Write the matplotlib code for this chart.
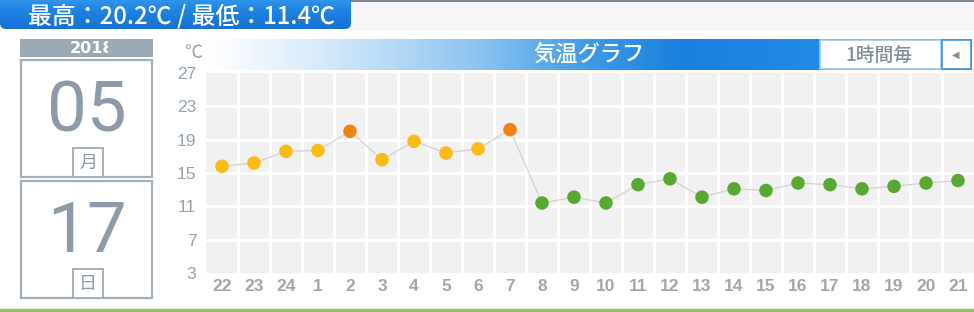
import numpy as np
import matplotlib
matplotlib.use("Agg")
from matplotlib import pyplot as plt
from matplotlib.patches import Rectangle, FancyBboxPatch
from matplotlib.colors import LinearSegmentedColormap

plt.rcParams['font.family'] = ['Liberation Sans', 'Noto Sans CJK JP', 'DejaVu Sans']

# 時刻 (前日22時 -> 当日21時)
hours = ['22', '23', '24', '1', '2', '3', '4', '5', '6', '7', '8', '9',
         '10', '11', '12', '13', '14', '15', '16', '17', '18', '19', '20', '21']
temps = [15.8, 16.2, 17.6, 17.7, 20.0, 16.6, 18.8, 17.4, 17.9, 20.2, 11.4, 12.1,
         11.4, 13.6, 14.3, 12.1, 13.1, 12.9, 13.8, 13.6, 13.1, 13.4, 13.8, 14.1]
n_observed = 10
yticks = [3, 7, 11, 15, 19, 23, 27]
hi_temp = 20.2
lo_temp = 11.4
year, month, day = '2018', '05', '17'

GREY = '#93a2ad'
CJK = ['Noto Sans CJK JP', 'DejaVu Sans']
W, H = 974, 312

fig = plt.figure(figsize=(W / 100, H / 100), dpi=100)
fig.patch.set_facecolor('white')

# 装飾用の全面axes (ピクセル座標)
deco = fig.add_axes([0, 0, 1, 1], zorder=0)
deco.set_xlim(0, W)
deco.set_ylim(H, 0)
deco.axis('off')

# 上部の帯
deco.add_patch(Rectangle((340, 0), W - 340, 31, facecolor='#f6f6f6', edgecolor='none'))
deco.plot([340, W], [0.6, 0.6], color='#627484', lw=1.2, zorder=1)

# 最高/最低バナー
banner = FancyBboxPatch((0, -12), 351, 41, boxstyle='round,pad=0,rounding_size=6',
                        transform=deco.transData, facecolor='none', edgecolor='none')
deco.add_patch(banner)
bcmap = LinearSegmentedColormap.from_list('b', ['#4aa8f2', '#1f86e6', '#1670d2'])
im = deco.imshow(np.linspace(0, 1, 50).reshape(-1, 1), cmap=bcmap, aspect='auto',
                 extent=(0, 351, 29, -12), origin='upper', zorder=1)
im.set_clip_path(banner)
deco.text(28, 16, f'最高：{hi_temp}℃ / 最低：{lo_temp}℃', color='white', fontsize=17.2,
          fontweight='medium', va='center', ha='left', zorder=2, family=CJK)

# 年バー (右端が切れて見える)
deco.add_patch(Rectangle((20, 39), 133, 18, facecolor='#9ba9b4', edgecolor='none', zorder=1))
deco.text(70, 48.5, year, color='white', fontsize=11.5, fontweight='bold',
          va='center', ha='left', family=['DejaVu Sans'], zorder=2)
deco.add_patch(Rectangle((108, 39), 45, 18, facecolor='#9ba9b4', edgecolor='none', zorder=3))

# 月・日ボックス
for top, num, unit in [(60, month, '月'), (181, day, '日')]:
    deco.add_patch(Rectangle((21, top), 131, 117, facecolor='white',
                             edgecolor='#a3b0b9', lw=1.6))
    deco.text(87, top + 52, num, color='#8c9ba7', fontsize=51, fontweight='normal',
              family=['Roboto', 'DejaVu Sans'], ha='center', va='center')
    deco.add_patch(Rectangle((73, top + 88), 30, 29, facecolor='white',
                             edgecolor='#a3b0b9', lw=1.4))
    deco.text(88, top + 103, unit, color='#8c9ba7', fontsize=13, family=CJK,
              ha='center', va='center')

# ℃ ラベル
deco.text(193, 53, '℃', color=GREY, fontsize=13, ha='center', va='center', family=CJK)

# 見出しのグラデーションバー
hcmap = LinearSegmentedColormap.from_list(
    'h', [(0, '#ffffff'), (0.15, '#d6e9fa'), (0.35, '#8ec5f1'), (0.5, '#3d9ae8'),
          (0.62, '#1a80de'), (1.0, '#2a97ee')])
deco.imshow(np.linspace(0, 1, 300).reshape(1, -1), cmap=hcmap, aspect='auto',
            extent=(207, 972, 70, 39), zorder=1)
deco.text(589, 54.5, '気温グラフ', color='white', fontsize=16, fontweight='medium',
          ha='center', va='center', zorder=2, family=CJK)
deco.add_patch(Rectangle((820, 40), 121, 29, facecolor='white', edgecolor='#9cc8ef',
                         lw=1.2, zorder=2))
deco.text(879, 55, '1時間毎', color='#7f8e99', fontsize=13.5, fontweight='medium',
          ha='center', va='center', zorder=3, family=CJK)
deco.add_patch(Rectangle((942, 40), 29, 29, facecolor='white', edgecolor='#3c97e8',
                         lw=1.2, zorder=2))
deco.text(956, 55, '◀', color='#7f8e99', fontsize=7, ha='center', va='center', zorder=3,
          family=['DejaVu Sans'])

# 下部の緑ライン
deco.plot([0, W], [310, 310], color='#8cc063', lw=2.5, zorder=1)

# メインのグラフ
ax = fig.add_axes([206 / W, 1 - 273 / H, 768 / W, 200 / H], zorder=2)
ax.set_facecolor('#f1f1f1')
x = np.arange(len(hours))
for k in range(1, len(hours)):
    ax.axvline(k - 0.5, color='white', lw=2, zorder=1)
for v in yticks[1:-1]:
    ax.axhline(v, color='white', lw=2, zorder=1)

ax.plot(x, temps, color='#d2d2d2', lw=0.9, zorder=2)
colors = []
for i, v in enumerate(temps):
    if i >= n_observed:
        colors.append('#58a931')
    elif v >= 20:
        colors.append('#f0820f')
    else:
        colors.append('#fdba12')
ax.scatter(x, temps, s=95, c=colors, zorder=3, linewidths=0)

ax.set_xlim(-0.5, len(hours) - 0.5)
ax.set_ylim(yticks[0], yticks[-1])
ax.set_xticks(x)
ax.set_xticklabels(hours, fontweight='bold')
ax.set_yticks(yticks)
ax.tick_params(length=0, colors=GREY, labelsize=12.5)
ax.tick_params(axis='x', pad=4, colors='#9da8b0')
ax.tick_params(axis='y', pad=7)
for s in ax.spines.values():
    s.set_visible(False)

fig.savefig('out.png', dpi=100, facecolor='white')
